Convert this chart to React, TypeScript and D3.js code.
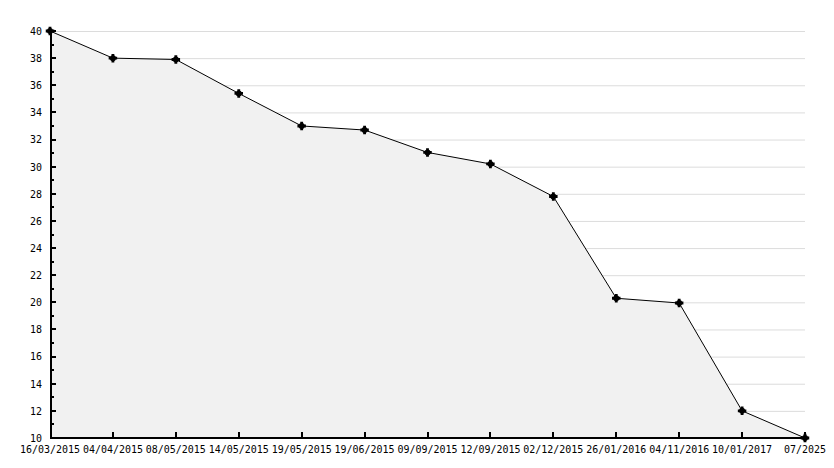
import React, { useEffect, useRef } from "react";
import * as d3 from "d3";

const categories = [
  "16/03/2015", "04/04/2015", "08/05/2015", "14/05/2015", "19/05/2015",
  "19/06/2015", "09/09/2015", "12/09/2015", "02/12/2015", "26/01/2016",
  "04/11/2016", "10/01/2017", "07/2025",
];
const values = [40, 38, 37.9, 35.4, 33.0, 32.7, 31.05, 30.2, 27.8, 20.3, 19.95, 12.0, 10];
const yMajorTicks = [10, 12, 14, 16, 18, 20, 22, 24, 26, 28, 30, 32, 34, 36, 38, 40];
const yMinorTicks = [11, 13, 15, 17, 19, 21, 23, 25, 27, 29, 31, 33, 35, 37, 39];

const W = 834, H = 468;
const M = { left: 50, right: 29, top: 31, bottom: 30 };

export default function App() {
  const ref = useRef<SVGSVGElement>(null);
  useEffect(() => {
    const svg = d3.select(ref.current);
    svg.selectAll("*").remove();
    const x = d3.scalePoint<string>().domain(categories).range([M.left, W - M.right]);
    const y = d3.scaleLinear().domain([10, 40]).range([H - M.bottom, M.top]);
    const font = "'DejaVu Sans Mono', monospace";

    // grid
    svg.append("g").selectAll("line").data(yMajorTicks.filter(t => t !== 10)).join("line")
      .attr("x1", M.left).attr("x2", W - M.right)
      .attr("y1", d => y(d) + 0.5).attr("y2", d => y(d) + 0.5)
      .attr("stroke", "#dcdcdc").attr("stroke-width", 1);

    const data = categories.map((c, i) => ({ c, v: values[i] }));
    const area = d3.area<{ c: string; v: number }>()
      .x(d => x(d.c)!).y0(y(10)).y1(d => y(d.v));
    svg.append("path").datum(data).attr("d", area).attr("fill", "#f1f1f1");
    const line = d3.line<{ c: string; v: number }>().x(d => x(d.c)!).y(d => y(d.v));
    svg.append("path").datum(data).attr("d", line).attr("fill", "none")
      .attr("stroke", "#000").attr("stroke-width", 1);

    // axes
    const ax = svg.append("g").attr("shape-rendering", "crispEdges");
    ax.append("line").attr("x1", M.left + 0.5).attr("x2", M.left + 0.5)
      .attr("y1", M.top).attr("y2", y(10)).attr("stroke", "#000").attr("stroke-width", 2);
    ax.append("line").attr("x1", M.left).attr("x2", W - M.right)
      .attr("y1", y(10)).attr("y2", y(10)).attr("stroke", "#000").attr("stroke-width", 2);
    ax.selectAll(".ymaj").data(yMajorTicks).join("line")
      .attr("x1", M.left).attr("x2", M.left + 6)
      .attr("y1", d => y(d)).attr("y2", d => y(d)).attr("stroke", "#000").attr("stroke-width", 2);
    ax.selectAll(".ymin").data(yMinorTicks).join("line")
      .attr("x1", M.left).attr("x2", M.left + 4)
      .attr("y1", d => y(d)).attr("y2", d => y(d)).attr("stroke", "#000").attr("stroke-width", 2);
    ax.selectAll(".xt").data(categories.slice(1)).join("line")
      .attr("x1", d => x(d)!).attr("x2", d => x(d)!)
      .attr("y1", y(10)).attr("y2", y(10) - 6).attr("stroke", "#000").attr("stroke-width", 2);

    svg.append("g").selectAll("text").data(yMajorTicks).join("text")
      .attr("x", M.left - 8).attr("y", d => y(d)).attr("dy", "0.35em")
      .attr("text-anchor", "end").attr("font-family", font).attr("font-size", 11)
      .attr("textLength", d => String(d).length * 6).attr("lengthAdjust", "spacingAndGlyphs")
      .attr("fill", "#000").text(d => String(d));
    svg.append("g").selectAll("text").data(categories).join("text")
      .attr("x", d => x(d)!).attr("y", y(10) + 11.5).attr("dy", "0.35em")
      .attr("text-anchor", "middle").attr("font-family", font).attr("font-size", 11)
      .attr("textLength", d => d.length * 6).attr("lengthAdjust", "spacingAndGlyphs")
      .attr("fill", "#000").text(d => d);

    // markers
    const g = svg.append("g");
    g.selectAll("circle").data(data).join("circle")
      .attr("cx", d => x(d.c)!).attr("cy", d => y(d.v)).attr("r", 3).attr("fill", "#000");
    g.selectAll("path").data(data).join("path")
      .attr("transform", d => `translate(${x(d.c)},${y(d.v)})`)
      .attr("d", d3.symbol(d3.symbolCross, 40)()!).attr("fill", "#000");
  }, []);
  return (
    <svg ref={ref} width={W} height={H}
      style={{ position: "absolute", left: 0, top: 0, background: "#fff" }} />
  );
}
